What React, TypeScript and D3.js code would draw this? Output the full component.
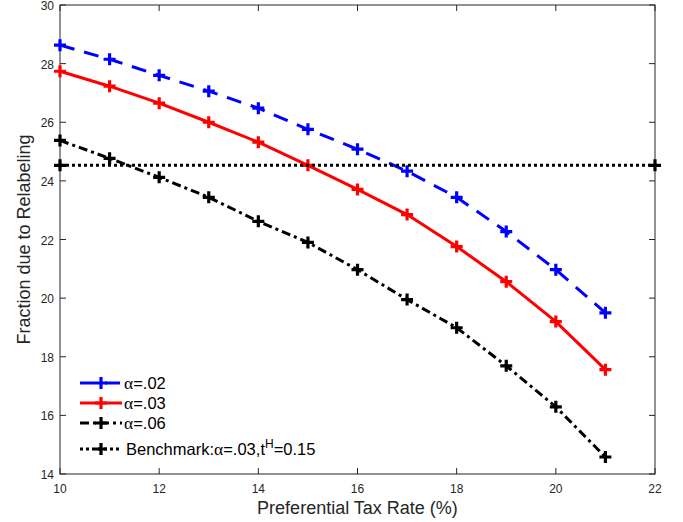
import React from "react";
import * as d3 from "d3";

const xs = [10, 11, 12, 13, 14, 15, 16, 17, 18, 19, 20, 21];
const alpha02 = [28.63, 28.15, 27.6, 27.06, 26.48, 25.76, 25.08, 24.33, 23.44, 22.27, 20.97, 19.5];
const alpha03 = [27.74, 27.23, 26.65, 26.0, 25.32, 24.53, 23.71, 22.85, 21.76, 20.56, 19.2, 17.56];
const alpha06 = [25.38, 24.77, 24.12, 23.44, 22.62, 21.9, 20.97, 19.95, 18.99, 17.69, 16.29, 14.58];
const benchX = [10, 22];
const benchY = [24.53, 24.53];
const xTicks = [10, 12, 14, 16, 18, 20, 22];
const yTicks = [14, 16, 18, 20, 22, 24, 26, 28, 30];

const W = 683, H = 522;
const L = 60, R = 655, T = 5, B = 474;

export default function App() {
  const x = d3.scaleLinear().domain([10, 22]).range([L, R]);
  const y = d3.scaleLinear().domain([14, 30]).range([B, T]);
  const line = d3.line<[number, number]>().x(d => x(d[0])).y(d => y(d[1]));

  const series = [
    { name: "α02", xv: xs, yv: alpha02, color: "#0000ff", dash: "15,10" },
    { name: "α03", xv: xs, yv: alpha03, color: "#ff0000", dash: "none" },
    { name: "α06", xv: xs, yv: alpha06, color: "#000000", dash: "9,4,3,4" },
    { name: "bench", xv: benchX, yv: benchY, color: "#000000", dash: "3,3" },
  ];

  const plus = (cx: number, cy: number, color: string, key: string) => (
    <path key={key} d={`M${cx - 6},${cy}H${cx + 6}M${cx},${cy - 6}V${cy + 6}`} stroke={color} strokeWidth={3.2} fill="none" />
  );

  const axisColor = "#262626";
  const font = "Liberation Sans, Arial, sans-serif";

  const legendRows = [
    { y: 383, color: "#0000ff", dash: "15,10", label: ".02" },
    { y: 403, color: "#ff0000", dash: "none", label: ".03" },
    { y: 423, color: "#000000", dash: "9,4,3,4", label: ".06" },
  ];

  return (
    <svg width={W} height={H} style={{ position: "absolute", left: 0, top: 0, background: "#fff" }}>
      <rect x={0} y={0} width={W} height={H} fill="#fff" />
      <rect x={L} y={T} width={R - L} height={B - T} fill="none" stroke={axisColor} strokeWidth={1} />
      {xTicks.map(t => (
        <g key={"xt" + t}>
          <line x1={x(t)} x2={x(t)} y1={B} y2={B - 6} stroke={axisColor} />
          <line x1={x(t)} x2={x(t)} y1={T} y2={T + 6} stroke={axisColor} />
          <text x={x(t)} y={B + 19} textAnchor="middle" fontSize={12} fontFamily={font} fill={axisColor}>{t}</text>
        </g>
      ))}
      {yTicks.map(t => (
        <g key={"yt" + t}>
          <line x1={L} x2={L + 6} y1={y(t)} y2={y(t)} stroke={axisColor} />
          <line x1={R} x2={R - 6} y1={y(t)} y2={y(t)} stroke={axisColor} />
          <text x={L - 6} y={y(t) + 5} textAnchor="end" fontSize={12} fontFamily={font} fill={axisColor}>{t}</text>
        </g>
      ))}
      <text x={(L + R) / 2} y={514} textAnchor="middle" fontSize={18} fontFamily={font} fill={axisColor}>Preferential Tax Rate (%)</text>
      <text transform={`translate(30,${(T + B) / 2}) rotate(-90)`} textAnchor="middle" fontSize={18} fontFamily={font} fill={axisColor}>Fraction due to Relabeling</text>

      {series.map(s => {
        const pts = s.xv.map((v, i) => [v, s.yv[i]] as [number, number]);
        return (
          <g key={s.name}>
            <path d={line(pts) || ""} fill="none" stroke={s.color} strokeWidth={3} strokeDasharray={s.dash} />
            {pts.map((p, i) => plus(x(p[0]), y(p[1]), s.color, s.name + i))}
          </g>
        );
      })}

      {legendRows.map(r => (
        <g key={r.label}>
          <line x1={80} x2={122} y1={r.y} y2={r.y} stroke={r.color} strokeWidth={3} strokeDasharray={r.dash} />
          {plus(101, r.y, r.color, "lg" + r.label)}
          <text x={124} y={r.y + 6} fontSize={16.5} fontFamily={font} fill="#000">
            <tspan fontFamily="Liberation Serif, Times New Roman, serif" fontSize={17.5}>α</tspan>={r.label}
          </text>
        </g>
      ))}
      <g>
        <line x1={80} x2={122} y1={449} y2={449} stroke="#000" strokeWidth={3} strokeDasharray="3,3" />
        {plus(101, 449, "#000", "lgb")}
        <text x={126} y={455} fontSize={16.5} fontFamily={font} fill="#000">
          Benchmark:<tspan fontFamily="Liberation Serif, Times New Roman, serif" fontSize={17.5}>α</tspan>=.03,t<tspan dy={-7} fontSize={12}>H</tspan><tspan dy={7}>=0.15</tspan>
        </text>
      </g>
    </svg>
  );
}
